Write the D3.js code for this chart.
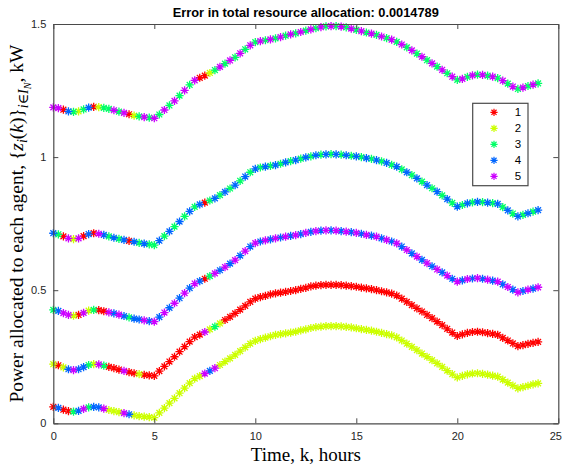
<!DOCTYPE html>
<html>
<head>
<meta charset="utf-8">
<script src="https://cdn.jsdelivr.net/npm/d3@7"></script>
<style>
  html, body { margin: 0; padding: 0; background: #fff; }
  svg { display: block; }
</style>
</head>
<body>
<svg id="chart" width="563" height="470"></svg>
<script>
// Sample times (hours, quarter-hour steps)
const hours = d3.range(0, 24.001, 0.25);

// Agent labels and colours (hsv(5))
const agents = ["1", "2", "3", "4", "5"];
const agentColors = ["#ff0000", "#ccff00", "#00ff66", "#0066ff", "#cc00ff"];

// Allocation levels, kW, one array per level (top to bottom)
const levelA = [1.187,1.184,1.178,1.172,1.170,1.172,1.179,1.186,1.189,1.188,1.185,1.181,1.176,1.171,1.166,1.161,1.156,1.153,1.150,1.148,1.146,
  1.160,1.177,1.194,1.211,1.231,1.251,1.271,1.288,1.298,1.306,1.316,1.327,1.339,1.351,1.363,1.375,1.390,1.405,1.420,1.432,
  1.436,1.439,1.442,1.446,1.451,1.456,1.461,1.465,1.470,1.475,1.480,1.484,1.488,1.491,1.492,1.492,1.490,1.487,1.483,1.478,
  1.473,1.468,1.464,1.459,1.453,1.447,1.441,1.433,1.423,1.412,1.401,1.389,1.377,1.364,1.352,1.340,1.328,1.315,1.302,1.290,
  1.294,1.301,1.307,1.310,1.309,1.306,1.302,1.297,1.287,1.276,1.265,1.256,1.261,1.267,1.272,1.277];
const levelB = [0.714,0.710,0.702,0.695,0.692,0.695,0.703,0.711,0.714,0.712,0.708,0.702,0.697,0.693,0.689,0.685,0.682,0.678,0.675,0.672,0.669,
  0.686,0.703,0.721,0.739,0.758,0.777,0.796,0.813,0.822,0.829,0.837,0.845,0.857,0.869,0.882,0.895,0.911,0.927,0.943,0.956,
  0.961,0.964,0.967,0.970,0.975,0.980,0.985,0.989,0.994,0.999,1.003,1.007,1.009,1.010,1.011,1.010,1.009,1.007,1.005,1.003,
  1.000,0.996,0.993,0.989,0.984,0.978,0.971,0.964,0.954,0.943,0.932,0.920,0.908,0.895,0.883,0.870,0.856,0.842,0.828,0.814,
  0.820,0.826,0.830,0.832,0.831,0.829,0.827,0.824,0.812,0.800,0.788,0.777,0.783,0.789,0.795,0.801];
const levelC = [0.426,0.422,0.414,0.407,0.404,0.407,0.415,0.423,0.426,0.425,0.421,0.417,0.413,0.408,0.403,0.398,0.393,0.390,0.387,0.384,0.382,
  0.399,0.416,0.434,0.451,0.470,0.489,0.508,0.525,0.534,0.543,0.553,0.563,0.575,0.587,0.600,0.613,0.630,0.647,0.664,0.677,
  0.683,0.687,0.691,0.695,0.698,0.701,0.704,0.707,0.711,0.715,0.719,0.722,0.724,0.725,0.725,0.724,0.722,0.720,0.718,0.715,
  0.712,0.708,0.705,0.701,0.695,0.689,0.683,0.676,0.664,0.651,0.638,0.626,0.614,0.602,0.590,0.578,0.567,0.555,0.543,0.532,
  0.537,0.542,0.544,0.545,0.543,0.540,0.536,0.532,0.522,0.512,0.502,0.492,0.497,0.502,0.506,0.511];
const levelD = [0.222,0.218,0.210,0.203,0.200,0.203,0.211,0.219,0.222,0.221,0.217,0.212,0.207,0.202,0.197,0.192,0.188,0.185,0.182,0.180,0.178,
  0.196,0.214,0.232,0.250,0.269,0.288,0.307,0.324,0.333,0.343,0.353,0.363,0.375,0.388,0.400,0.413,0.427,0.441,0.456,0.468,
  0.474,0.479,0.484,0.488,0.491,0.494,0.497,0.500,0.505,0.509,0.514,0.517,0.519,0.520,0.520,0.520,0.519,0.517,0.515,0.513,
  0.510,0.507,0.504,0.500,0.496,0.492,0.487,0.480,0.468,0.456,0.444,0.432,0.420,0.407,0.395,0.382,0.369,0.355,0.341,0.328,
  0.334,0.340,0.343,0.344,0.342,0.339,0.336,0.332,0.321,0.311,0.300,0.290,0.294,0.298,0.302,0.306];
const levelE = [0.062,0.058,0.051,0.046,0.044,0.047,0.054,0.060,0.062,0.060,0.055,0.050,0.046,0.042,0.038,0.034,0.030,0.027,0.025,0.023,0.021,
  0.039,0.057,0.076,0.094,0.113,0.132,0.151,0.168,0.177,0.187,0.197,0.207,0.219,0.232,0.244,0.257,0.271,0.285,0.299,0.310,
  0.316,0.322,0.327,0.332,0.335,0.338,0.341,0.344,0.349,0.353,0.358,0.361,0.363,0.365,0.365,0.365,0.364,0.362,0.360,0.357,
  0.354,0.351,0.348,0.344,0.340,0.335,0.330,0.323,0.311,0.299,0.287,0.275,0.262,0.250,0.237,0.225,0.212,0.198,0.185,0.172,
  0.178,0.184,0.187,0.188,0.186,0.183,0.179,0.175,0.164,0.153,0.142,0.131,0.136,0.141,0.146,0.150];

// Agent holding each level at each sample time (one digit per sample)
const ownerA = "551432341233535123535" + "35353535" + "1123" +
  "5353535353535353535353535353535353535353535353535353535353535353";
const ownerB = "431525141543434143433" + "434343434" + "1" +
  "343434343434343434343434343434343434343434343434343434343434343434";
const ownerC = "345521523115454344545" + "454545454" + "13" +
  "54545454545454545454545454545454545454545454545454545454545454545";
const ownerD = "212454432531115112111" + "111111111" + "5232" +
  "111111111111111111111111111111111111111111111111111111111111111";
const ownerE = "141134534452225422222" + "222222222" + "545" +
  "2222222222222222222222222222222222222222222222222222222222222222";

const title = "Error in total resource allocation: 0.0014789";
const xTicks = [0, 5, 10, 15, 20, 25];
const yTicks = [0, 0.5, 1, 1.5];

// ---- layout ----
const svg = d3.select("#chart");
const plot = { left: 53.3, right: 558.3, top: 24, bottom: 423.3 };
const x = d3.scaleLinear().domain([0, 25]).range([plot.left, plot.right]);
const y = d3.scaleLinear().domain([0, 1.5]).range([plot.bottom, plot.top]);
const axisColor = "#4a4a4a";
const sans = "'Liberation Sans', Arial, Helvetica, sans-serif";
const serif = "'Liberation Serif', 'DejaVu Serif', serif";

// Asterisk marker
function starPath(r) {
  const d = r * Math.SQRT1_2;
  return `M${-r},0L${r},0M0,${-r}L0,${r}M${-d},${-d}L${d},${d}M${-d},${d}L${d},${-d}`;
}
const star = starPath(4.1);

// Gather points from every level; agents are layered 1..5 like successive plot calls
const levels = [levelA, levelB, levelC, levelD, levelE];
const owners = [ownerA, ownerB, ownerC, ownerD, ownerE];
const points = [];
levels.forEach((vals, li) => {
  vals.forEach((v, i) => {
    points.push({ t: hours[i], v, agent: +owners[li][i] - 1 });
  });
});
const layered = agents.flatMap((_, a) => points.filter(p => p.agent === a));

svg.append("g")
  .selectAll("path")
  .data(layered)
  .join("path")
  .attr("d", star)
  .attr("transform", d => `translate(${x(d.t)},${y(d.v)})`)
  .attr("fill", "none")
  .attr("stroke", d => agentColors[d.agent])
  .attr("stroke-width", 1.3);

// Axes with inward ticks, mirrored on top and right
const fmt = d3.format("~g");
const bottomAxis = d3.axisBottom(x).tickValues(xTicks).tickSizeInner(-5).tickSizeOuter(0).tickPadding(9).tickFormat(fmt);
const topAxis = d3.axisTop(x).tickValues(xTicks).tickSizeInner(-5).tickSizeOuter(0).tickFormat("");
const leftAxis = d3.axisLeft(y).tickValues(yTicks).tickSizeInner(-5).tickSizeOuter(0).tickPadding(7).tickFormat(fmt);
const rightAxis = d3.axisRight(y).tickValues(yTicks).tickSizeInner(-5).tickSizeOuter(0).tickFormat("");

function styleAxis(g) {
  g.select(".domain").attr("stroke", axisColor).attr("stroke-width", 1.2);
  g.selectAll(".tick line").attr("stroke", axisColor).attr("stroke-width", 1);
  g.selectAll(".tick text").attr("fill", "#262626").style("font-family", sans).style("font-size", "11px");
}
const gx = svg.append("g").attr("transform", `translate(0,${plot.bottom})`).call(bottomAxis).call(styleAxis);
// keep the last tick label inside the canvas
gx.selectAll(".tick text").filter(d => d === 25).attr("dx", -3);
svg.append("g").attr("transform", `translate(0,${plot.top})`).call(topAxis).call(styleAxis);
svg.append("g").attr("transform", `translate(${plot.left},0)`).call(leftAxis).call(styleAxis);
svg.append("g").attr("transform", `translate(${plot.right},0)`).call(rightAxis).call(styleAxis);

// Title
svg.append("text")
  .attr("x", (plot.left + plot.right) / 2)
  .attr("y", 17)
  .attr("text-anchor", "middle")
  .style("font-family", sans)
  .style("font-size", "12.8px")
  .style("font-weight", "bold")
  .attr("fill", "#000")
  .text(title);

// X label
svg.append("text")
  .attr("x", (plot.left + plot.right) / 2)
  .attr("y", 461)
  .attr("text-anchor", "middle")
  .style("font-family", serif)
  .style("font-size", "19px")
  .attr("fill", "#000")
  .text("Time, k, hours");

// Y label with math notation
const yl = svg.append("text")
  .attr("transform", `translate(23,${(plot.top + plot.bottom) / 2 + 0}) rotate(-90)`)
  .attr("text-anchor", "middle")
  .style("font-family", serif)
  .style("font-size", "19.5px")
  .attr("fill", "#000");
yl.append("tspan").text("Power allocated to each agent, {");
yl.append("tspan").style("font-style", "italic").text("z");
yl.append("tspan").style("font-style", "italic").style("font-size", "14px").attr("dy", 4).text("i");
yl.append("tspan").attr("dy", -4).text("(");
yl.append("tspan").style("font-style", "italic").text("k");
yl.append("tspan").text(")}");
yl.append("tspan").style("font-size", "14px").attr("dy", 5).html("<tspan font-style='italic'>i</tspan>∈<tspan font-style='italic'>I</tspan>");
yl.append("tspan").style("font-size", "10px").style("font-style", "italic").attr("dy", 3).text("N");
yl.append("tspan").attr("dy", -8).text(", kW");

// Legend
const lg = svg.append("g");
lg.append("rect")
  .attr("x", 472.7).attr("y", 103.3)
  .attr("width", 55.3).attr("height", 82.4)
  .attr("fill", "#fff")
  .attr("stroke", axisColor)
  .attr("stroke-width", 1.2);
const rows = lg.selectAll("g.row")
  .data(agents)
  .join("g")
  .attr("class", "row")
  .attr("transform", (d, i) => `translate(0,${112.3 + i * 16})`);
rows.append("path")
  .attr("d", starPath(3.6))
  .attr("transform", "translate(494,0)")
  .attr("fill", "none")
  .attr("stroke", (d, i) => agentColors[i])
  .attr("stroke-width", 1.2);
rows.append("text")
  .attr("x", 518).attr("y", 4)
  .attr("text-anchor", "middle")
  .style("font-family", sans)
  .style("font-size", "11.5px")
  .attr("fill", "#000")
  .text(d => d);
</script>
</body>
</html>
